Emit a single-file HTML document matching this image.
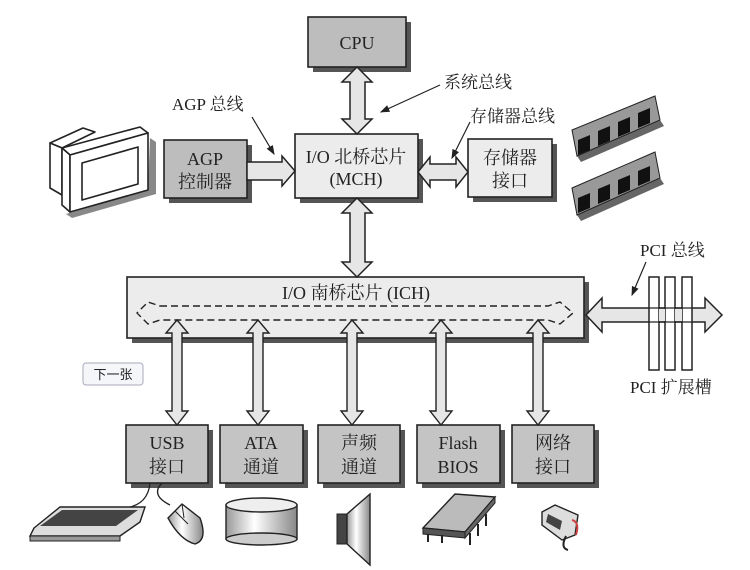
<!DOCTYPE html>
<html><head><meta charset="utf-8"><style>
html,body{margin:0;padding:0;background:#fff;}
svg{display:block;}
text{font-family:"Liberation Serif","Noto Serif CJK SC",serif;fill:#222;}
</style></head><body>
<svg width="750" height="570" viewBox="0 0 750 570" xmlns="http://www.w3.org/2000/svg">
<defs>
<marker id="ah" markerWidth="8" markerHeight="8" refX="7" refY="4" orient="auto"><path d="M0,1 L8,4 L0,7 z" fill="#222"/></marker>
<linearGradient id="cyl" x1="0" x2="1"><stop offset="0" stop-color="#999"/><stop offset="0.4" stop-color="#fff"/><stop offset="1" stop-color="#888"/></linearGradient>
</defs>
<g fill="#555">
<rect x="313" y="22" width="98" height="50"/>
<rect x="300" y="139" width="123" height="64"/>
<rect x="169" y="145" width="83" height="58"/>
<rect x="473" y="144" width="84" height="58"/>
<rect x="132" y="282" width="457" height="61"/>
<rect x="131" y="430" width="82" height="58"/>
<rect x="225" y="430" width="83" height="58"/>
<rect x="323" y="430" width="82" height="58"/>
<rect x="422" y="430" width="83" height="58"/>
<rect x="517" y="430" width="82" height="58"/>
</g>
<g stroke="#222" stroke-width="1.6">
<rect x="308" y="17" width="98" height="50" fill="#bdbdbd"/>
<rect x="295" y="134" width="123" height="64" fill="#ececec"/>
<rect x="164" y="140" width="83" height="58" fill="#bdbdbd"/>
<rect x="468" y="139" width="84" height="58" fill="#ececec"/>
<rect x="127" y="277" width="457" height="61" fill="#ececec"/>
<rect x="126" y="425" width="82" height="58" fill="#c4c4c4"/>
<rect x="220" y="425" width="83" height="58" fill="#c4c4c4"/>
<rect x="318" y="425" width="82" height="58" fill="#c4c4c4"/>
<rect x="417" y="425" width="83" height="58" fill="#c4c4c4"/>
<rect x="512" y="425" width="82" height="58" fill="#c4c4c4"/>
</g>
<g text-anchor="middle" font-size="18">
<text x="357" y="49">CPU</text>
<text x="356" y="163">I/O 北桥芯片</text>
<text x="356" y="185">(MCH)</text>
<text x="205" y="165">AGP</text>
<text x="205" y="188">控制器</text>
<text x="510" y="164">存储器</text>
<text x="510" y="187">接口</text>
<text x="356" y="299">I/O 南桥芯片 (ICH)</text>
<text x="167" y="449">USB</text><text x="167" y="473">接口</text>
<text x="261" y="449">ATA</text><text x="261" y="473">通道</text>
<text x="359" y="449">声频</text><text x="359" y="473">通道</text>
<text x="458" y="449">Flash</text><text x="458" y="473">BIOS</text>
<text x="553" y="449">网络</text><text x="553" y="473">接口</text>
</g>
<g font-size="17">
<text x="172" y="110">AGP 总线</text>
<text x="444" y="88">系统总线</text>
<text x="470" y="122">存储器总线</text>
<text x="640" y="256">PCI 总线</text>
<text x="630" y="393">PCI 扩展槽</text>
</g>
<g fill="#e6e6e6" stroke="#222" stroke-width="1.5">
<path d="M357,67 L372,82 L365,82 L365,119 L372,119 L357,134 L342,119 L350,119 L350,82 L342,82 z"/>
<path d="M357,198 L372,213 L365,213 L365,262 L372,262 L357,277 L342,262 L350,262 L350,213 L342,213 z"/>
<path d="M247,162 L282,162 L282,156 L295,171 L282,186 L282,180 L247,180 z"/>
<path d="M418,172 L430,157 L430,164 L456,164 L456,157 L468,172 L456,187 L456,180 L430,180 L430,187 z"/>
<path d="M586,315 L602,298 L602,308 L705,308 L705,298 L722,315 L705,332 L705,322 L602,322 L602,332 z"/>
</g>
<g fill="#fff" stroke="#222" stroke-width="1.5">
<rect x="649" y="277" width="10" height="93"/>
<rect x="665" y="277" width="10" height="93"/>
<rect x="682" y="277" width="10" height="93"/>
</g>
<path d="M649,308 H692 M649,322 H692" stroke="#222" stroke-width="1.2"/>
<rect x="659" y="309" width="6" height="12" fill="#e6e6e6"/><rect x="675" y="309" width="7" height="12" fill="#e6e6e6"/>
<path d="M160,306 H548 L560,302 L573,313 L560,324 L548,320 H160 L148,324 L137,313 L148,302 z" fill="none" stroke="#222" stroke-width="1.4" stroke-dasharray="7,4"/>
<g fill="#e6e6e6" stroke="#222" stroke-width="1.4">
<path id="va" d="M0,320 L11,333 L5,333 L5,411 L11,411 L0,425 L-11,411 L-5,411 L-5,333 L-11,333 z" transform="translate(177,0)"/>
<use href="#va" transform="translate(81,0)"/>
<use href="#va" transform="translate(175,0)"/>
<use href="#va" transform="translate(264,0)"/>
<use href="#va" transform="translate(361,0)"/>
</g>
<g stroke="#222" stroke-width="1.2" marker-end="url(#ah)">
<line x1="252" y1="117" x2="274" y2="154"/>
<line x1="440" y1="85" x2="381" y2="112"/>
<line x1="470" y1="122" x2="452" y2="158"/>
<line x1="646" y1="262" x2="632" y2="295"/>
</g>
<rect x="83" y="363" width="60" height="22" rx="3" fill="#f4f6fa" stroke="#aab" stroke-width="1"/>
<text x="113" y="379" text-anchor="middle" font-size="13" style="font-family:'Liberation Sans','Noto Sans CJK SC',sans-serif" fill="#333">下一张</text>
<!-- monitor -->
<path d="M150,138 L156,142 L156,194 L72,218 L66,214 L148,190 z" fill="#888"/>
<g stroke="#222" stroke-width="1.6" stroke-linejoin="round" fill="#fff">
<path d="M50,143 L83,128 L95,132 L62,148 z"/>
<path d="M50,143 L62,148 L62,195 L50,188 z"/>
<path d="M62,148 L140,127 L148,133 L70,155 z"/>
<path d="M62,148 L70,155 L70,212 L62,205 z"/>
<path d="M70,155 L148,133 L148,190 L70,212 z"/>
<path d="M82,163 L138,147 L138,184 L82,200 z"/>
</g>
<!-- RAM -->
<path d="M577,156 L660,120 L664,126 L581,162 z" fill="#666"/>
<path d="M577,215 L660,178 L664,184 L581,221 z" fill="#666"/>
<path d="M572,130 L655,96 L660,120 L577,156 z" fill="#999" stroke="#222"/>
<path d="M572,188 L655,152 L660,178 L577,215 z" fill="#999" stroke="#222"/>
<g fill="#111">
<path d="M578,140 L590,135 L590,150 L578,155 z"/><path d="M598,131 L610,126 L610,141 L598,146 z"/><path d="M618,122 L630,117 L630,132 L618,137 z"/><path d="M638,113 L650,108 L650,123 L638,128 z"/>
<path d="M578,198 L590,193 L590,208 L578,213 z"/><path d="M598,189 L610,184 L610,199 L598,204 z"/><path d="M618,180 L630,175 L630,190 L618,195 z"/><path d="M638,171 L650,166 L650,181 L638,186 z"/>
</g>
<path d="M150,483 Q148,505 125,508" fill="none" stroke="#222" stroke-width="1.3"/>
<path d="M162,483 Q150,495 170,505" fill="none" stroke="#222" stroke-width="1.3"/>
<path d="M34,528 L60,507 L145,507 L140,522 L120,536 L30,536 z" fill="#ddd" stroke="#222" stroke-width="1.4"/>
<path d="M40,526 L62,510 L138,510 L116,526 z" fill="#444"/>
<path d="M30,536 L120,536 L120,541 L30,541 z" fill="#999" stroke="#222"/>
<path d="M168,518 L182,504 L200,518 Q208,540 195,544 Q180,540 168,518 z" fill="url(#cyl)" stroke="#222" stroke-width="1.4"/>
<path d="M175,511 L188,524 M182,504 L184,518" stroke="#222"/>
<rect x="226" y="505" width="71" height="34" fill="url(#cyl)" stroke="#222" stroke-width="1.4"/>
<ellipse cx="261.5" cy="505" rx="35.5" ry="7" fill="#eee" stroke="#222" stroke-width="1.4"/>
<ellipse cx="261.5" cy="539" rx="35.5" ry="6" fill="#ccc" stroke="#222" stroke-width="1.4"/>
<rect x="337" y="514" width="10" height="30" fill="#444" stroke="#222"/>
<path d="M347,514 L370,494 L370,565 L347,544 z" fill="url(#cyl)" stroke="#222" stroke-width="1.4"/>
<path d="M423,528 L455,494 L495,497 L465,532 z" fill="#bbb" stroke="#222" stroke-width="1.4"/>
<path d="M423,528 L465,532 L465,538 L423,534 z" fill="#555" stroke="#222"/>
<path d="M465,532 L495,497 L495,503 L465,538 z" fill="#666" stroke="#222"/>
<g stroke="#222" stroke-width="2"><line x1="470" y1="533" x2="470" y2="545"/><line x1="478" y1="524" x2="478" y2="536"/><line x1="486" y1="514" x2="486" y2="526"/><line x1="428" y1="534" x2="428" y2="542"/><line x1="442" y1="535" x2="442" y2="543"/></g>
<path d="M542,512 L555,505 L578,515 L575,535 L562,540 L542,525 z" fill="#ddd" stroke="#222" stroke-width="1.4"/>
<path d="M548,514 L562,521 L560,530 L546,522 z" fill="#444"/>
<path d="M566,536 Q560,548 568,550" fill="none" stroke="#222" stroke-width="2"/>
<path d="M572,520 Q580,522 576,535" fill="none" stroke="#c44" stroke-width="2"/>
</svg>
</body></html>
